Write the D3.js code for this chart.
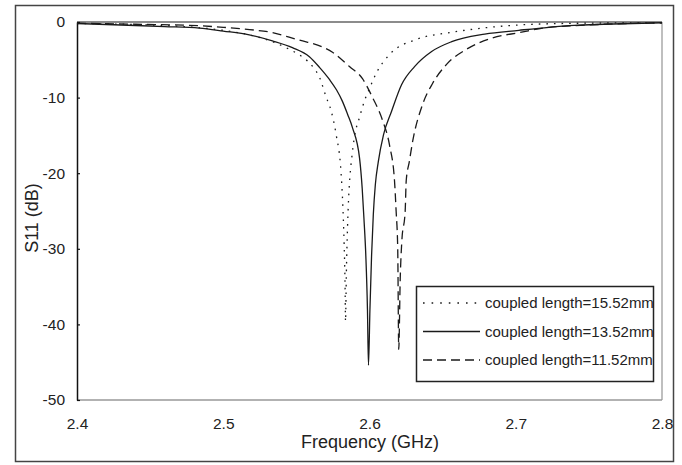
<!DOCTYPE html>
<html><head><meta charset="utf-8">
<script src="https://cdn.jsdelivr.net/npm/d3@7"></script>
<style>body{margin:0;background:#fff}svg{display:block}</style>
</head><body><svg id="c" width="682" height="465"></svg>
<script>
const xTicks = [2.4, 2.5, 2.6, 2.7, 2.8];
const yTicks = [0, -10, -20, -30, -40, -50];
const seriesNames = ["coupled length=15.52mm", "coupled length=13.52mm", "coupled length=11.52mm"];

// coupled length = 15.52 mm (dotted)
const freq1552 = [2.40, 2.45, 2.48, 2.50, 2.52, 2.535, 2.545, 2.554, 2.5612, 2.5658, 2.5703, 2.5737, 2.5771, 2.5806, 2.5817, 2.5826, 2.5833, 2.5836, 2.5842, 2.5850, 2.5858, 2.5866, 2.5879, 2.5897, 2.5932, 2.5966, 2.6000, 2.6048, 2.6137, 2.6322, 2.6548, 2.6774, 2.7116, 2.75, 2.80];
const s11_1552 = [-0.2, -0.4, -0.7, -1.1, -1.8, -2.7, -3.6, -4.6, -5.9, -7.3, -9.9, -11.7, -14.8, -20.1, -24, -29, -35, -39.6, -33, -27, -23, -20.5, -17.9, -15.2, -12.6, -10.4, -8.8, -6.7, -4.3, -2.3, -1.4, -0.8, -0.3, -0.15, -0.1];

// coupled length = 13.52 mm (solid)
const freq1352 = [2.40, 2.43, 2.46, 2.4836, 2.50, 2.5178, 2.5336, 2.5473, 2.5589, 2.5658, 2.5726, 2.5775, 2.5815, 2.5850, 2.5884, 2.5932, 2.5950, 2.5962, 2.5975, 2.5986, 2.5993, 2.6003, 2.6014, 2.6026, 2.6040, 2.6060, 2.6096, 2.6151, 2.6219, 2.6308, 2.6425, 2.6562, 2.6788, 2.7021, 2.7226, 2.74, 2.76, 2.80];
const s11_1352 = [-0.2, -0.4, -0.6, -0.8, -1.2, -1.7, -2.5, -3.4, -4.6, -6.0, -7.6, -9.0, -10.5, -12.2, -14, -18, -22, -26, -31, -38, -45.4, -38, -31, -25.5, -21.5, -18.5, -14.9, -11.8, -8.3, -5.9, -3.9, -2.6, -1.6, -1.1, -0.7, -0.45, -0.3, -0.1];

// coupled length = 11.52 mm (dashed)
const freq1152 = [2.40, 2.44, 2.4836, 2.50, 2.518, 2.5336, 2.5432, 2.552, 2.5678, 2.5747, 2.5863, 2.5952, 2.6021, 2.6089, 2.6137, 2.6171, 2.6182, 2.6193, 2.6200, 2.6210, 2.6221, 2.6244, 2.6251, 2.6272, 2.6295, 2.6363, 2.6432, 2.6527, 2.6664, 2.6842, 2.7027, 2.7226, 2.74, 2.76, 2.80];
const s11_1152 = [-0.15, -0.3, -0.5, -0.7, -1.0, -1.4, -1.9, -2.4, -3.3, -4.0, -5.9, -7.5, -10, -13, -16.3, -21, -25, -30, -43.3, -34, -29, -25, -21, -18.5, -15.8, -10.9, -8.1, -5.6, -3.6, -2.1, -1.4, -0.7, -0.5, -0.3, -0.1];

const series = [
  {name: seriesNames[0], f: freq1552, v: s11_1552, dash: "1.6,6", legendDash: "1.6,7"},
  {name: seriesNames[1], f: freq1352, v: s11_1352, dash: null, legendDash: null},
  {name: seriesNames[2], f: freq1152, v: s11_1152, dash: "9,5", legendDash: "9,5"}
];

const svg = d3.select("#c");
const font = "'Liberation Sans', Arial, sans-serif";
const ink = "#222";

// outer frame
svg.append("rect").attr("x", 15.5).attr("y", 5.5).attr("width", 658).attr("height", 456)
  .attr("fill", "none").attr("stroke", "#444").attr("stroke-width", 1.5);

const x = d3.scaleLinear().domain([2.4, 2.8]).range([77, 662]);
const y = d3.scaleLinear().domain([-50, 0]).range([400, 22]);

// plot borders
svg.append("line").attr("x1", 77).attr("x2", 662).attr("y1", 22).attr("y2", 22).attr("stroke", "#666").attr("stroke-width", 1.5);
svg.append("line").attr("x1", 662).attr("x2", 662).attr("y1", 22).attr("y2", 400).attr("stroke", "#aaa").attr("stroke-width", 1.5);
svg.append("line").attr("x1", 77).attr("x2", 662).attr("y1", 400).attr("y2", 400).attr("stroke", "#999").attr("stroke-width", 1.5);

// y axis
const yAxis = svg.append("g").attr("transform", "translate(77,0)")
  .call(d3.axisLeft(y).tickValues(yTicks).tickFormat(d => String(d)).tickSizeInner(-3).tickSizeOuter(0).tickPadding(12));
yAxis.select(".domain").attr("stroke", "#111").attr("stroke-width", 1.5);
yAxis.selectAll(".tick line").attr("stroke", "#111").attr("stroke-width", 1.2);
yAxis.selectAll("text").attr("font-family", font).attr("font-size", 15.5).attr("fill", ink);

// x axis
const xAxis = svg.append("g").attr("transform", "translate(0,400)")
  .call(d3.axisBottom(x).tickValues(xTicks).tickFormat(d => d.toFixed(1)).tickSize(0).tickPadding(18));
xAxis.select(".domain").remove();
xAxis.selectAll("text").attr("font-family", font).attr("font-size", 15.5).attr("fill", ink);

// axis titles
svg.append("text").attr("x", 370).attr("y", 448).attr("text-anchor", "middle")
  .attr("font-family", font).attr("font-size", 18).attr("fill", ink).text("Frequency (GHz)");
svg.append("text").attr("transform", "translate(38,218) rotate(-90)").attr("text-anchor", "middle")
  .attr("font-family", font).attr("font-size", 18).attr("fill", ink).text("S11 (dB)");

// curves
const line = d3.line().x(d => x(d[0])).y(d => y(d[1])).curve(d3.curveMonotoneX);
series.forEach(s => {
  const pts = s.f.map((f, i) => [f, s.v[i]]);
  svg.append("path").datum(pts).attr("d", line).attr("fill", "none")
    .attr("stroke", "#1a1a1a").attr("stroke-width", 1.3)
    .attr("stroke-dasharray", s.dash);
});

// legend
const lg = svg.append("g");
lg.append("rect").attr("x", 416.5).attr("y", 286.5).attr("width", 237).attr("height", 95)
  .attr("fill", "#fff").attr("stroke", "#222").attr("stroke-width", 1.5);
const rowY = [303, 331.5, 360];
series.forEach((s, i) => {
  lg.append("line").attr("x1", 423).attr("x2", 480).attr("y1", rowY[i]).attr("y2", rowY[i])
    .attr("stroke", "#1a1a1a").attr("stroke-width", 1.3).attr("stroke-dasharray", s.legendDash);
  lg.append("text").attr("x", 485).attr("y", rowY[i]).attr("dy", "0.35em")
    .attr("font-family", font).attr("font-size", 15).attr("fill", ink).text(s.name);
});
</script>
</body></html>
